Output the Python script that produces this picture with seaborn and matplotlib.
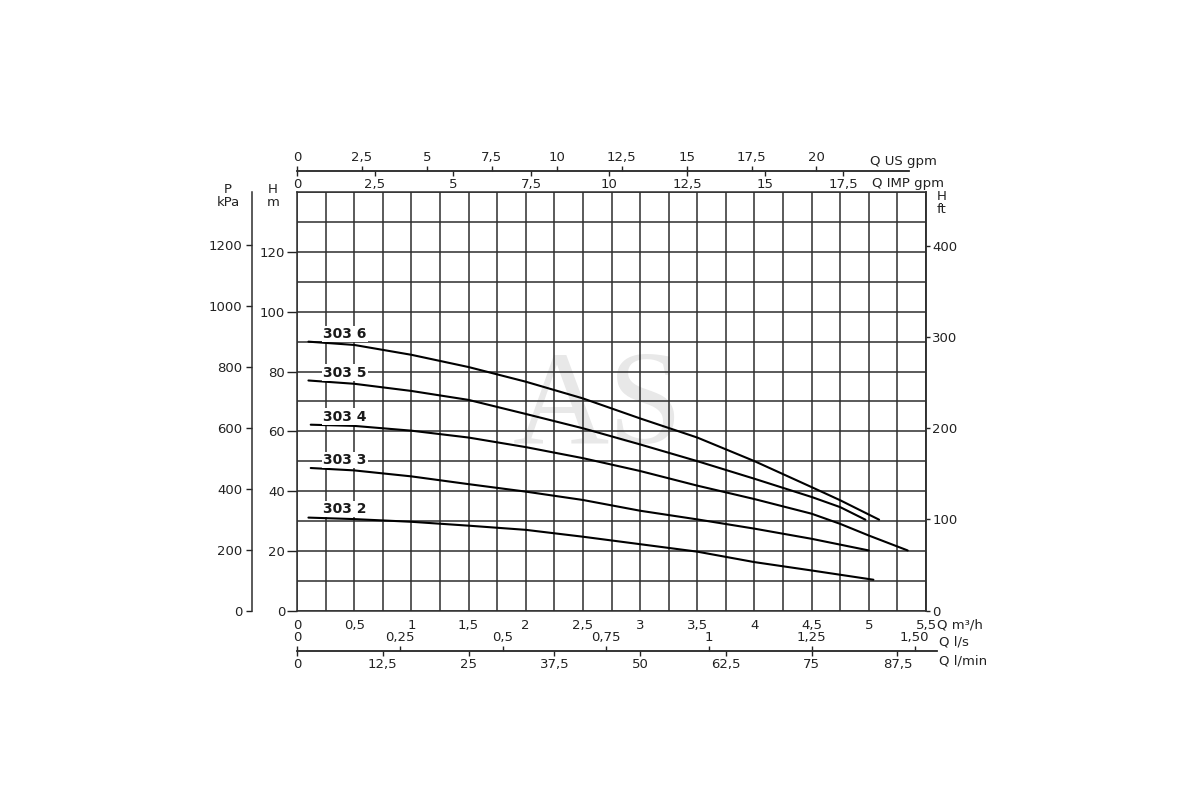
import numpy as np
import pandas as pd
import matplotlib
matplotlib.use("Agg")
import matplotlib.pyplot as plt
from matplotlib.ticker import MultipleLocator
import seaborn as sns

# Pump curves (Q in m3/h, H in m)
pumps = ["303 6", "303 5", "303 4", "303 3", "303 2"]

q_303_6 = [0.1, 0.5, 1.0, 1.5, 2.0, 2.5, 3.0, 3.5, 4.0, 4.5, 4.75, 5.09]
h_303_6 = [90.0, 88.9, 85.6, 81.5, 76.6, 71.0, 64.3, 57.9, 50.0, 41.3, 36.9, 30.4]

q_303_5 = [0.1, 0.5, 1.0, 1.5, 2.0, 2.5, 3.0, 3.5, 4.0, 4.5, 4.75, 4.97]
h_303_5 = [77.0, 75.9, 73.5, 70.5, 65.8, 61.0, 55.6, 50.0, 44.1, 38.0, 34.6, 30.4]

q_303_4 = [0.12, 0.5, 1.0, 1.5, 2.0, 2.5, 3.0, 3.5, 4.0, 4.5, 4.75, 5.0, 5.34]
h_303_4 = [62.2, 61.8, 60.2, 57.9, 54.7, 51.0, 46.7, 41.8, 37.3, 32.4, 29.0, 25.1, 20.1]

q_303_3 = [0.12, 0.5, 1.0, 1.5, 2.0, 2.5, 3.0, 3.5, 4.0, 4.5, 5.0]
h_303_3 = [47.7, 46.9, 44.9, 42.3, 39.8, 37.0, 33.4, 30.5, 27.4, 24.0, 20.1]

q_303_2 = [0.1, 0.5, 1.0, 1.5, 2.0, 2.5, 3.0, 3.5, 4.0, 4.5, 5.04]
h_303_2 = [31.1, 30.6, 29.7, 28.4, 27.0, 24.7, 22.2, 19.7, 16.2, 13.4, 10.3]

# Curve name positions (Q, H)
label_q = [0.23, 0.23, 0.23, 0.23, 0.23]
label_h = [92.6, 79.6, 64.9, 50.4, 34.0]

# Scale ticks
m3h_ticks = [0, 0.5, 1, 1.5, 2, 2.5, 3, 3.5, 4, 4.5, 5, 5.5]
m3h_labels = ["0", "0,5", "1", "1,5", "2", "2,5", "3", "3,5", "4", "4,5", "5", "5,5"]
ls_ticks = [0, 0.25, 0.5, 0.75, 1, 1.25, 1.5]
ls_labels = ["0", "0,25", "0,5", "0,75", "1", "1,25", "1,50"]
lmin_ticks = [0, 12.5, 25, 37.5, 50, 62.5, 75, 87.5]
lmin_labels = ["0", "12,5", "25", "37,5", "50", "62,5", "75", "87,5"]
usgpm_ticks = [0, 2.5, 5, 7.5, 10, 12.5, 15, 17.5, 20]
usgpm_labels = ["0", "2,5", "5", "7,5", "10", "12,5", "15", "17,5", "20"]
impgpm_ticks = [0, 2.5, 5, 7.5, 10, 12.5, 15, 17.5]
impgpm_labels = ["0", "2,5", "5", "7,5", "10", "12,5", "15", "17,5"]
h_ticks = [0, 20, 40, 60, 80, 100, 120]
kpa_ticks = [0, 200, 400, 600, 800, 1000, 1200]
ft_ticks = [0, 100, 200, 300, 400]

# Unit conversions
M3H_PER_USGPM = 0.227125
M3H_PER_IMPGPM = 0.272765
M3H_PER_LS = 3.6
M3H_PER_LMIN = 0.06
KPA_PER_M = 9.80665
FT_PER_M = 3.28084

sns.set_style("white")
plt.rcParams["font.family"] = ["DejaVu Sans"]
plt.rcParams["text.color"] = "#222222"
plt.rcParams["xtick.color"] = "#222222"
plt.rcParams["ytick.color"] = "#222222"

rows = []
curves = [(q_303_6, h_303_6), (q_303_5, h_303_5), (q_303_4, h_303_4),
          (q_303_3, h_303_3), (q_303_2, h_303_2)]
for name, (q, h) in zip(pumps, curves):
    for qq, hh in zip(q, h):
        rows.append({"Q": qq, "H": hh, "pump": name})
df = pd.DataFrame(rows)

fig = plt.figure(figsize=(12, 8), dpi=100)
ax = fig.add_axes([297 / 1200, 1 - 610.5 / 800, 629 / 1200, 418.2 / 800])

sns.lineplot(data=df, x="Q", y="H", hue="pump", hue_order=pumps,
             palette=["black"] * len(pumps), sort=False, estimator=None,
             legend=False, linewidth=1.5, ax=ax)

ax.set_xlim(0, 5.5)
ax.set_ylim(0, 140)
ax.set_xlabel("")
ax.set_ylabel("")
ax.set_xticks(m3h_ticks, m3h_labels)
ax.xaxis.set_minor_locator(MultipleLocator(0.25))
ax.set_yticks(h_ticks)
ax.yaxis.set_minor_locator(MultipleLocator(10))
ax.set_axisbelow(True)
ax.grid(True, which="both", color="#2e2e2e", linewidth=1.1)
ax.tick_params(axis="x", which="both", length=0, pad=6, labelsize=9.5)
ax.tick_params(axis="y", which="major", length=7, width=1, pad=1.5, labelsize=9.5, left=True)
ax.tick_params(axis="y", which="minor", length=0)
for s in ax.spines.values():
    s.set_color("#2e2e2e")
    s.set_linewidth(1.1)

# Watermark
ax.text(2.63, 56.1, "AS", family="Liberation Serif", fontsize=96,
        color="#e8e8e8", ha="center", va="baseline", zorder=0.1)

# Curve names
for name, lq, lh in zip(pumps, label_q, label_h):
    ax.text(lq, lh, name, fontsize=10, fontweight="bold", ha="left", va="center",
            color="#1a1a1a", zorder=3,
            bbox=dict(facecolor="white", edgecolor="none", pad=1.0))

tick_kw = dict(length=3.5, width=1, pad=1.5, labelsize=9.5)

# Top scales: US gpm above the line, IMP gpm below
top_loc = (610.5 - 171) / 418.2
sec_us = ax.secondary_xaxis(top_loc, functions=(lambda q: q / M3H_PER_USGPM,
                                                 lambda g: g * M3H_PER_USGPM))
sec_us.set_xticks(usgpm_ticks, usgpm_labels)
sec_us.tick_params(**tick_kw)
sec_us.spines["top"].set_bounds(0, 5.35 / M3H_PER_USGPM)

sec_imp = ax.secondary_xaxis(top_loc, functions=(lambda q: q / M3H_PER_IMPGPM,
                                                  lambda g: g * M3H_PER_IMPGPM))
sec_imp.set_alignment("bottom")
sec_imp.set_xticks(impgpm_ticks, impgpm_labels)
sec_imp.tick_params(**tick_kw)
sec_imp.spines["bottom"].set_bounds(0, 5.35 / M3H_PER_IMPGPM)

# Bottom scales: l/s above the line, l/min below
bot_loc = -(650.7 - 610.5) / 418.2
sec_ls = ax.secondary_xaxis(bot_loc, functions=(lambda q: q / M3H_PER_LS,
                                                 lambda v: v * M3H_PER_LS))
sec_ls.set_alignment("top")
sec_ls.set_xticks(ls_ticks, ls_labels)
sec_ls.tick_params(**tick_kw)
sec_ls.spines["top"].set_bounds(0, 5.6 / M3H_PER_LS)

sec_lmin = ax.secondary_xaxis(bot_loc, functions=(lambda q: q / M3H_PER_LMIN,
                                                   lambda v: v * M3H_PER_LMIN))
sec_lmin.set_xticks(lmin_ticks, lmin_labels)
sec_lmin.tick_params(**tick_kw)
sec_lmin.spines["bottom"].set_bounds(0, 5.6 / M3H_PER_LMIN)

# Pressure axis on the far left, feet on the right
sec_kpa = ax.secondary_yaxis(-45.5 / 629, functions=(lambda m: m * KPA_PER_M,
                                                      lambda p: p / KPA_PER_M))
sec_kpa.set_yticks(kpa_ticks)
sec_kpa.tick_params(length=4.5, width=1, pad=2, labelsize=9.5)

sec_ft = ax.secondary_yaxis("right", functions=(lambda m: m * FT_PER_M,
                                                 lambda f: f / FT_PER_M))
sec_ft.set_yticks(ft_ticks)
sec_ft.tick_params(length=3, width=1, pad=1.5, labelsize=9.5)

for sec in [sec_us, sec_imp, sec_ls, sec_lmin, sec_kpa, sec_ft]:
    for s in sec.spines.values():
        s.set_color("#2e2e2e")
        s.set_linewidth(1.1)


def px(x, y):
    return x / 1200, 1 - y / 800


unit_kw = dict(fontsize=9.5, ha="left", va="center")
fig.text(*px(870, 161), "Q US gpm", **unit_kw)
fig.text(*px(872, 183), "Q IMP gpm", **unit_kw)
fig.text(*px(937, 625), "Q m³/h", **unit_kw)
fig.text(*px(939, 642), "Q l/s", **unit_kw)
fig.text(*px(939, 661), "Q l/min", **unit_kw)

axis_kw = dict(fontsize=9.5, ha="center", va="center", linespacing=1.0)
fig.text(*px(228, 196), "P\nkPa", **axis_kw)
fig.text(*px(273, 196), "H\nm", **axis_kw)
fig.text(*px(942, 203), "H\nft", **axis_kw)

fig.savefig("out.png", dpi=100)
